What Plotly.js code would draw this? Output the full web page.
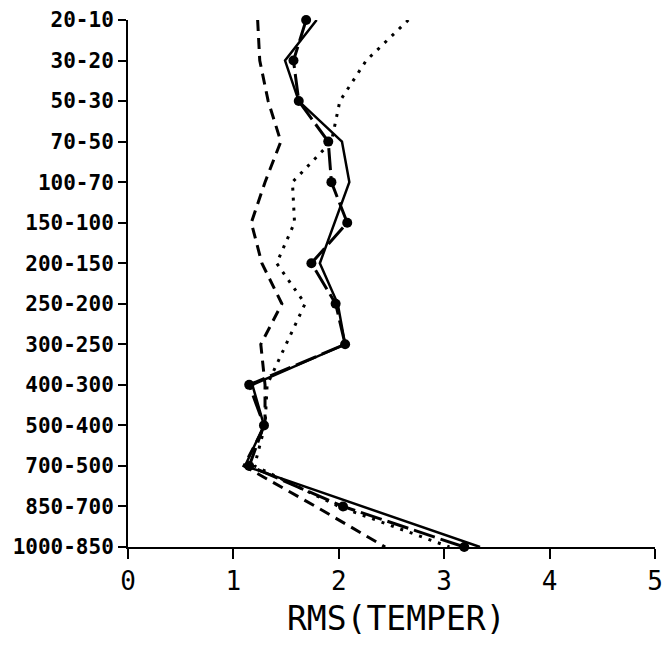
<!DOCTYPE html>
<html><head><meta charset="utf-8">
<script src="https://cdn.plot.ly/plotly-3.0.1.min.js"></script>
<style>body{margin:0;background:#fff}</style></head>
<body><div id="chart" style="width:664px;height:646px"></div>
<script>
const layers = ["20-10","30-20","50-30","70-50","100-70","150-100","200-150","250-200","300-250","400-300","500-400","700-500","850-700","1000-850"];
const solidVals  = [1.79, 1.49, 1.62, 2.03, 2.10, 1.96, 1.82, 1.99, 2.06, 1.18, 1.29, 1.11, 2.22, 3.34];
const markedVals = [1.69, 1.57, 1.62, 1.90, 1.93, 2.08, 1.74, 1.97, 2.06, 1.15, 1.29, 1.15, 2.04, 3.19];
const dashedVals = [1.23, 1.25, 1.33, 1.45, 1.30, 1.17, 1.27, 1.46, 1.26, 1.30, 1.30, 1.10, 1.78, 2.44];
const dottedVals = [2.66, 2.26, 2.01, 1.93, 1.56, 1.58, 1.41, 1.68, 1.50, 1.32, 1.30, 1.20, 2.00, 3.05];
const xTicks = [0, 1, 2, 3, 4, 5];
const xTitle = 'RMS(TEMPER)';

const traces = [
  {x: dashedVals, y: layers, mode: 'lines', line: {color: '#000', width: 3, dash: '11px,7px'}, cliponaxis: false},
  {x: dottedVals, y: layers, mode: 'lines', line: {color: '#000', width: 3, dash: '3px,7px'}, cliponaxis: false},
  {x: solidVals, y: layers, mode: 'lines', line: {color: '#000', width: 2.5}, cliponaxis: false},
  {x: markedVals, y: layers, mode: 'lines+markers', line: {color: '#000', width: 3, dash: '22px,6px'},
   marker: {color: '#000', size: 10}, cliponaxis: false}
];

const layout = {
  width: 664, height: 646,
  margin: {l: 128, r: 9, t: 20, b: 99},
  paper_bgcolor: '#fff', plot_bgcolor: '#fff',
  showlegend: false,
  xaxis: {
    range: [0, 5], tickvals: xTicks, ticktext: xTicks.map(String),
    showgrid: false, zeroline: false,
    showline: true, linecolor: '#000', linewidth: 2,
    ticks: 'outside', ticklen: 10, tickwidth: 2, tickcolor: '#000',
    tickfont: {family: 'DejaVu Sans Mono', size: 26, color: '#000'}
  },
  yaxis: {
    type: 'category', categoryorder: 'array', categoryarray: layers,
    range: [13, 0],
    showgrid: false, zeroline: false,
    showline: true, linecolor: '#000', linewidth: 2,
    ticks: 'outside', ticklen: 8, tickwidth: 2, tickcolor: '#000',
    tickfont: {family: 'DejaVu Sans Mono', size: 21, color: '#000', weight: 700}
  },
  annotations: [{
    text: xTitle, xref: 'paper', yref: 'paper', x: 0.51, y: -0.135,
    xanchor: 'center', yanchor: 'middle', showarrow: false,
    font: {family: 'DejaVu Sans Mono', size: 33, color: '#000'}
  }]
};
Plotly.newPlot('chart', traces, layout, {staticPlot: true, displayModeBar: false});
</script></body></html>
